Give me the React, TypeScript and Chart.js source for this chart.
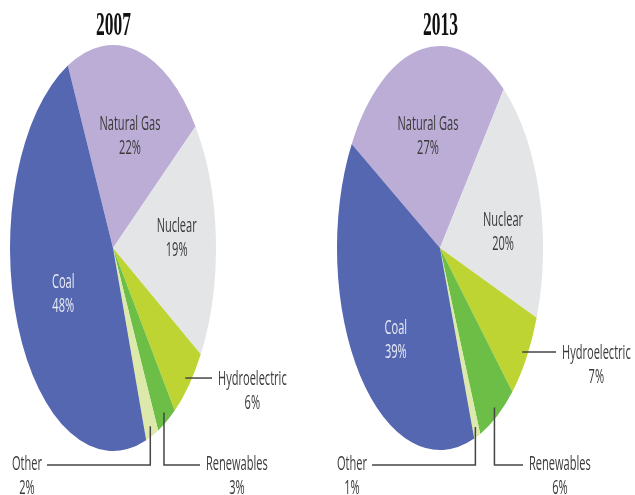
import React, { useEffect, useRef } from "react";
import { Chart, registerables } from "chart.js";
Chart.register(...registerables);

// ---- data ----
const CATEGORIES = ["Natural Gas", "Nuclear", "Hydroelectric", "Renewables", "Other", "Coal"];
const YEARS = ["2007", "2013"];
const SHARES_2007 = [22, 19, 6, 3, 2, 48];
const SHARES_2013 = [27, 20, 7, 6, 1, 39];
const SHARES = [SHARES_2007, SHARES_2013];

// ---- styles / layout ----
const COLORS = ["#BBADD6", "#E4E5E7", "#BDD432", "#6CBE46", "#DDE9AA", "#5467B0"];
const W = 635;
const H = 495;
const LABEL_FONT = '20px "Open Sans", sans-serif';
const TITLE_FONT = 'bold 34px "Liberation Serif", serif';
const TEXT_COLOR = "#3a3a3a";
const LIGHT_TEXT = "#e8ebf5";

const PIE_LAYOUT = [
  {
    cx: 113, cy: 248, rx: 103, ry: 203, rotation: -26,
    inside: { "Natural Gas": [0.576, 3], Nuclear: [0.62, -1.6], Coal: [0.535, -3] } as Record<string, number[]>,
    hydroEnd: 212, renewEnd: 200, otherEnd: 47, elbowY: 465,
  },
  {
    cx: 440, cy: 248, rx: 103, ry: 202, rotation: -59,
    inside: { "Natural Gas": [0.566, -1.5], Nuclear: [0.617, 8.5], Coal: [0.628, -7.7] } as Record<string, number[]>,
    hydroEnd: 556, renewEnd: 523, otherEnd: 372, elbowY: 465,
  },
];

function drawText(ctx: CanvasRenderingContext2D, text: string, x: number, y: number, font: string,
  color: string, sx: number, align: CanvasTextAlign, baseline: CanvasTextBaseline = "middle") {
  ctx.save();
  ctx.translate(x, y);
  ctx.scale(sx, 1);
  ctx.font = font;
  ctx.textAlign = align;
  ctx.textBaseline = baseline;
  ctx.fillStyle = color;
  ctx.fillText(text, 0, 0);
  ctx.restore();
}

const ellipsePie = {
  id: "ellipsePie",
  beforeDatasetsDraw(chart: any, _a: any, opts: any) {
    const ctx = chart.ctx;
    const arc = chart.getDatasetMeta(0).data[0];
    ctx.save();
    ctx.translate(opts.cx, opts.cy);
    ctx.scale(opts.rx / opts.ry, 1);
    ctx.translate(-arc.x, -arc.y);
  },
  afterDatasetsDraw(chart: any) {
    chart.ctx.restore();
  },
  afterDraw(chart: any, _a: any, opts: any) {
    const ctx: CanvasRenderingContext2D = chart.ctx;
    const meta = chart.getDatasetMeta(0);
    const labels: string[] = chart.data.labels;
    const values: number[] = chart.data.datasets[0].data;
    ctx.font = LABEL_FONT;
    const sx = 61 / ctx.measureText("Natural Gas").width;
    ctx.font = TITLE_FONT;
    const tsx = 35 / ctx.measureText("2007").width;
    drawText(ctx, opts.title, opts.cx + 0.5, 35, TITLE_FONT, "#111", tsx, "center", "alphabetic");

    const pt = (i: number, f: number, shiftDeg = 0) => {
      const el = meta.data[i];
      const mid = (el.startAngle + el.endAngle) / 2 + (shiftDeg * Math.PI) / 180;
      return { x: opts.cx + Math.cos(mid) * f * opts.rx, y: opts.cy + Math.sin(mid) * f * opts.ry };
    };
    ctx.font = LABEL_FONT;
    const wOf = (t: string) => ctx.measureText(t).width * sx;

    labels.forEach((name, i) => {
      const pct = values[i] + "%";
      const ins = opts.inside[name];
      if (ins) {
        const p = pt(i, ins[0], ins[1]);
        const col = name === "Coal" ? LIGHT_TEXT : TEXT_COLOR;
        drawText(ctx, name, p.x, p.y - 12, LABEL_FONT, col, sx, "center");
        drawText(ctx, pct, p.x, p.y + 12, LABEL_FONT, col, sx, "center");
        return;
      }
      const s = pt(i, 0.95);
      ctx.save();
      ctx.strokeStyle = "#454545";
      ctx.lineWidth = 1.5;
      ctx.beginPath();
      ctx.moveTo(s.x, s.y);
      let tx = 0, ty = 0;
      if (name === "Hydroelectric") {
        ctx.lineTo(opts.hydroEnd, s.y);
        tx = opts.hydroEnd + 6 + wOf(name) / 2;
        ty = s.y + 1;
      } else if (name === "Renewables") {
        ctx.lineTo(s.x, opts.elbowY);
        ctx.lineTo(opts.renewEnd, opts.elbowY);
        tx = opts.renewEnd + 6 + wOf(name) / 2;
        ty = opts.elbowY - 1;
      } else {
        ctx.lineTo(s.x, opts.elbowY);
        ctx.lineTo(opts.otherEnd, opts.elbowY);
        tx = opts.otherEnd - 5 - wOf(name) / 2;
        ty = opts.elbowY - 1;
      }
      ctx.stroke();
      ctx.restore();
      drawText(ctx, name, tx, ty, LABEL_FONT, TEXT_COLOR, sx, "center");
      drawText(ctx, pct, tx, ty + 24, LABEL_FONT, TEXT_COLOR, sx, "center");
    });
  },
};

function PieCanvas({ index }: { index: number }) {
  const ref = useRef<HTMLCanvasElement | null>(null);
  useEffect(() => {
    const lay = PIE_LAYOUT[index];
    const chart = new Chart(ref.current as HTMLCanvasElement, {
      type: "pie",
      data: {
        labels: CATEGORIES,
        datasets: [{ data: SHARES[index], backgroundColor: COLORS, borderWidth: 0 }],
      },
      options: {
        animation: false,
        responsive: false,
        events: [],
        radius: lay.ry,
        rotation: lay.rotation,
        plugins: {
          legend: { display: false },
          tooltip: { enabled: false },
          ellipsePie: { ...lay, title: YEARS[index] },
        },
      } as any,
      plugins: [ellipsePie],
    });
    return () => chart.destroy();
  }, [index]);
  return <canvas ref={ref} width={W} height={H} style={{ position: "absolute", left: 0, top: 0 }} />;
}

export default function App() {
  useEffect(() => {
    document.body.style.margin = "0";
  }, []);
  return (
    <div style={{ position: "relative", width: W, height: H, background: "#fff" }}>
      <PieCanvas index={0} />
      <PieCanvas index={1} />
    </div>
  );
}
